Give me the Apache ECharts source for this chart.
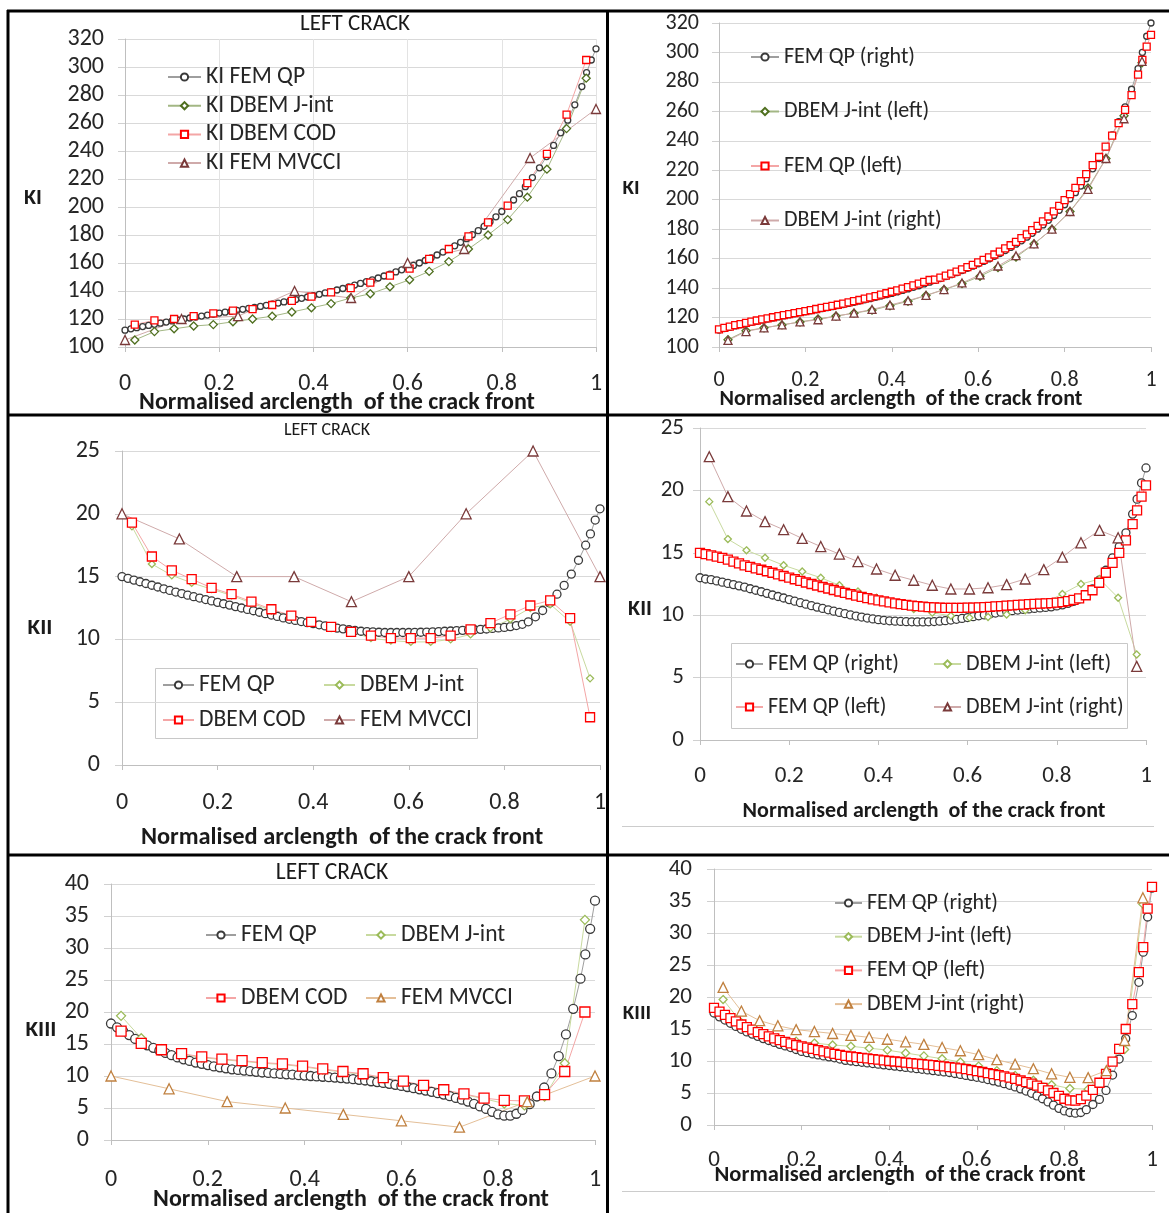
<!DOCTYPE html>
<html lang="en">

<head>
    <meta charset="UTF-8">
    <title>Crack front SIFs</title>
    <script type="text/javascript" src="https://cdn.jsdelivr.net/npm/echarts@6/dist/echarts.min.js"></script>
    <style>
        html, body { margin: 0; padding: 0; background: #fff; }
        #container { width: 1169px; height: 1213px; }
    </style>
</head>

<body>
    <div id="container"></div>
</body>
<script type="text/javascript">
    // crack front sampling (normalised arclength)
    var xQP = [0, 0.0125, 0.025, 0.0375, 0.05, 0.0625, 0.075, 0.0875, 0.1, 0.1125,
        0.125, 0.1375, 0.15, 0.1625, 0.175, 0.1875, 0.2, 0.2125, 0.225, 0.2375,
        0.25, 0.2625, 0.275, 0.2875, 0.3, 0.3125, 0.325, 0.3375, 0.35, 0.3625,
        0.375, 0.3875, 0.4, 0.4125, 0.425, 0.4375, 0.45, 0.4625, 0.475, 0.4875,
        0.5, 0.5125, 0.525, 0.5375, 0.55, 0.5625, 0.575, 0.5875, 0.6, 0.6125,
        0.625, 0.6375, 0.65, 0.6625, 0.675, 0.6875, 0.7, 0.7125, 0.725, 0.7375,
        0.75, 0.7625, 0.775, 0.7875, 0.8, 0.8125, 0.825, 0.8375, 0.85, 0.865,
        0.88, 0.895, 0.91, 0.925, 0.94, 0.955, 0.97, 0.98, 0.99, 1];
    var xBEM = [0.0208, 0.0625, 0.1042, 0.1458, 0.1875, 0.2292, 0.2708, 0.3125, 0.3542, 0.3958,
        0.4375, 0.4792, 0.5208, 0.5625, 0.6042, 0.6458, 0.6875, 0.7292, 0.7708, 0.8125,
        0.8542, 0.8958, 0.9375, 0.9792];
    var xMV = [0, 0.12, 0.24, 0.36, 0.48, 0.6, 0.72, 0.86, 1];

    // KI, left crack
    var kiQP = [112, 113, 113.8, 114.6, 115.4, 116.2, 117, 117.8, 118.6, 119.3,
        120, 120.7, 121.4, 122.1, 122.8, 123.5, 124.2, 124.9, 125.5, 126.2,
        126.9, 127.6, 128.3, 129, 129.8, 130.6, 131.4, 132.2, 133, 133.9,
        134.8, 135.7, 136.6, 137.6, 138.6, 139.6, 140.7, 141.8, 143, 144.2,
        145.4, 146.7, 148, 149.3, 150.7, 152.1, 153.6, 155.1, 156.7, 158.3,
        160, 161.8, 163.7, 165.7, 167.8, 170, 172.3, 174.8, 177.4, 180.2,
        183.1, 186.2, 189.5, 193, 196.8, 200.8, 205, 209.5, 214.5, 221,
        228, 236, 244, 253, 262, 273, 286, 296, 305, 313];
    var kiJint = [105, 111, 113, 115, 116, 118, 120, 122, 125, 128, 131, 135, 138, 143, 148, 154,
        161, 170, 180, 191, 207, 227, 256, 292];
    var kiCOD = [116, 119, 120, 122, 124, 126, 127, 130, 133, 136, 139, 142, 146, 151, 156, 163,
        170, 179, 189, 201, 217, 238, 266, 305];
    var kiMV = [105, 120, 122, 140, 135, 160, 170, 235, 270];

    // KI, both cracks
    var kiQPRight = [111.5, 112.5, 113.4, 114.3, 115.1, 115.9, 116.7, 117.5, 118.3, 119,
        119.7, 120.4, 121.1, 121.8, 122.5, 123.2, 123.9, 124.6, 125.3, 126,
        126.7, 127.4, 128.1, 128.8, 129.6, 130.4, 131.2, 132, 132.8, 133.7,
        134.6, 135.5, 136.4, 137.4, 138.4, 139.4, 140.5, 141.6, 142.8, 144,
        145.2, 146.5, 147.8, 149.1, 150.5, 151.9, 153.4, 154.9, 156.5, 158.1,
        159.8, 161.6, 163.5, 165.5, 167.6, 169.8, 172.1, 174.6, 177.2, 180,
        182.9, 186, 189.3, 192.8, 196.6, 200.6, 204.8, 209.3, 214.3, 221,
        228, 236, 244, 253, 263, 275, 289, 300, 311, 320];
    var kiJintLeft = [105, 111, 113, 115, 117, 119, 121, 123, 125, 128, 131, 135, 139, 143, 148, 154,
        161, 170, 180, 192, 208, 228, 257, 293];
    var kiQPLeft = [112, 113, 113.9, 114.8, 115.6, 116.4, 117.2, 118, 118.8, 119.5,
        120.2, 120.9, 121.6, 122.3, 123, 123.7, 124.4, 125.1, 125.8, 126.5,
        127.2, 127.9, 128.7, 129.5, 130.3, 131.1, 131.9, 132.8, 133.7, 134.6,
        135.5, 136.5, 137.5, 138.5, 139.6, 140.7, 141.8, 143, 144.2, 145.5,
        145.8, 147.1, 148.4, 149.8, 151.2, 152.7, 154.2, 155.8, 157.4, 159.1,
        160.9, 162.8, 164.8, 166.9, 169.1, 171.4, 173.9, 176.5, 179.3, 182.2,
        185.3, 188.6, 192.1, 195.8, 199.7, 203.8, 208.1, 212.6, 217.4, 223.5,
        229, 236, 243.5, 252, 261, 271, 285, 295, 304, 312];
    var kiJintRight = [104.5, 110.5, 113, 115, 117, 118.5, 121, 123, 125.5, 128.5, 131.5, 135, 139, 143.5,
        149, 155, 162, 170, 180, 192, 207, 228, 255, 294];

    // KII, left crack
    var kiiQP = [15, 14.86, 14.72, 14.59, 14.45, 14.31, 14.17, 14.03, 13.9, 13.77,
        13.65, 13.52, 13.4, 13.29, 13.17, 13.06, 12.95, 12.84, 12.73, 12.61,
        12.5, 12.39, 12.28, 12.16, 12.05, 11.94, 11.83, 11.71, 11.6, 11.51,
        11.42, 11.33, 11.25, 11.16, 11.07, 10.99, 10.9, 10.84, 10.77, 10.71,
        10.65, 10.62, 10.6, 10.57, 10.55, 10.55, 10.55, 10.55, 10.55, 10.56,
        10.57, 10.58, 10.6, 10.62, 10.65, 10.67, 10.7, 10.72, 10.75, 10.77,
        10.8, 10.83, 10.87, 10.91, 10.95, 11.02, 11.1, 11.2, 11.4, 11.8,
        12.3, 12.9, 13.6, 14.3, 15.2, 16.3, 17.5, 18.4, 19.5, 20.4];
    var kiiJint = [19.0, 16.0, 15.1, 14.5, 14.0, 13.5, 12.9, 12.3, 11.8, 11.3, 10.9, 10.6, 10.1, 9.9,
        9.8, 9.8, 10.0, 10.4, 10.9, 11.6, 12.5, 12.8, 11.4, 6.9];
    var kiiCOD = [19.3, 16.6, 15.5, 14.8, 14.1, 13.6, 13.0, 12.4, 11.9, 11.4, 11.0, 10.6, 10.3, 10.1,
        10.1, 10.1, 10.3, 10.8, 11.3, 12.0, 12.7, 13.1, 11.7, 3.8];
    var kiiMV = [20, 18, 15, 15, 13, 15, 20, 25, 15];

    // KII, both cracks
    var kiiQPRight = [13.0, 12.9, 12.85, 12.75, 12.65, 12.55, 12.45, 12.35, 12.25, 12.12,
        12.0, 11.88, 11.75, 11.62, 11.5, 11.38, 11.25, 11.12, 11.0, 10.88,
        10.76, 10.65, 10.54, 10.43, 10.32, 10.22, 10.12, 10.02, 9.93, 9.85,
        9.77, 9.7, 9.64, 9.59, 9.55, 9.52, 9.5, 9.48, 9.47, 9.46,
        9.46, 9.47, 9.49, 9.52, 9.56, 9.61, 9.67, 9.74, 9.81, 9.88,
        9.95, 10.02, 10.1, 10.17, 10.24, 10.3, 10.36, 10.41, 10.46, 10.5,
        10.54, 10.58, 10.62, 10.67, 10.74, 10.83, 10.95, 11.1, 11.3, 11.65,
        12.1, 12.8, 13.6, 14.6, 15.5, 16.6, 18.1, 19.3, 20.6, 21.8];
    var kiiJintLeft = [19.1, 16.1, 15.2, 14.6, 14.0, 13.5, 13.0, 12.4, 11.9, 11.4, 10.9, 10.5, 10.2,
        9.95, 9.8, 9.85, 10.05, 10.4, 10.95, 11.7, 12.5, 12.9, 11.4, 6.85];
    var kiiQPLeft = [15.0, 14.9, 14.8, 14.7, 14.6, 14.45, 14.3, 14.15, 14.0, 13.88,
        13.76, 13.64, 13.52, 13.4, 13.27, 13.14, 13.01, 12.88, 12.75, 12.62,
        12.5, 12.38, 12.26, 12.14, 12.02, 11.9, 11.79, 11.68, 11.57, 11.47,
        11.37, 11.27, 11.18, 11.1, 11.02, 10.95, 10.88, 10.82, 10.77, 10.72,
        10.68, 10.65, 10.62, 10.6, 10.59, 10.58, 10.58, 10.59, 10.6, 10.61,
        10.63, 10.65, 10.67, 10.7, 10.73, 10.76, 10.79, 10.82, 10.85, 10.88,
        10.9, 10.92, 10.94, 10.97, 11.0, 11.05, 11.12, 11.22, 11.35, 11.6,
        12.0, 12.6, 13.4, 14.2, 15.0, 16.0, 17.3, 18.4, 19.5, 20.4];
    var kiiJintRight = [22.7, 19.5, 18.35, 17.5, 16.85, 16.15, 15.5, 14.9, 14.3, 13.7, 13.2, 12.8, 12.4,
        12.1, 12.1, 12.2, 12.45, 12.9, 13.65, 14.65, 15.8, 16.8, 16.2, 5.9];

    // KIII, left crack
    var kiiiQP = [18.2, 17.6, 17.0, 16.4, 15.8, 15.3, 14.8, 14.4, 14.0, 13.6,
        13.25, 12.9, 12.6, 12.35, 12.1, 11.9, 11.7, 11.5, 11.35, 11.2,
        11.05, 10.95, 10.85, 10.75, 10.65, 10.55, 10.48, 10.4, 10.33, 10.26,
        10.2, 10.13, 10.07, 10.0, 9.94, 9.88, 9.82, 9.75, 9.68, 9.6,
        9.5, 9.4, 9.3, 9.18, 9.05, 8.92, 8.78, 8.62, 8.45, 8.28,
        8.1, 7.92, 7.73, 7.53, 7.32, 7.1, 6.85, 6.58, 6.3, 6.0,
        5.65, 5.25, 4.85, 4.4, 4.0, 3.8, 3.8, 4.1, 4.7, 5.6,
        6.8, 8.2, 10.4, 13.1, 16.5, 20.5, 25.2, 29.0, 33.0, 37.4];
    var kiiiJint = [19.4, 15.9, 14.2, 13.4, 12.9, 12.55, 12.3, 12.0, 11.8, 11.45, 11.0, 10.6, 10.25,
        9.65, 9.1, 8.45, 7.75, 7.1, 6.45, 5.7, 5.4, 6.8, 12.0, 34.4];
    var kiiiCOD = [17.0, 15.1, 14.1, 13.5, 13.0, 12.65, 12.4, 12.1, 11.9, 11.55, 11.1, 10.7, 10.35,
        9.75, 9.2, 8.55, 7.85, 7.2, 6.55, 6.2, 6.1, 7.1, 10.7, 20.0];
    var kiiiMV = [10, 8, 6, 5, 4, 3, 2, 6, 10];

    // KIII, both cracks
    var kiiiQPRight = [17.5, 16.9, 16.4, 15.9, 15.4, 14.95, 14.55, 14.2, 13.85, 13.5,
        13.2, 12.9, 12.6, 12.35, 12.1, 11.8, 11.5, 11.3, 11.1, 10.95,
        10.8, 10.65, 10.5, 10.3, 10.1, 10.0, 9.9, 9.8, 9.7, 9.6,
        9.5, 9.4, 9.3, 9.2, 9.1, 9.0, 8.9, 8.8, 8.7, 8.6,
        8.5, 8.4, 8.3, 8.2, 8.05, 7.9, 7.75, 7.6, 7.45, 7.3,
        7.1, 6.9, 6.7, 6.45, 6.2, 5.95, 5.65, 5.3, 4.95, 4.55,
        4.1, 3.6, 3.1, 2.6, 2.2, 1.95, 1.85, 1.95, 2.4, 3.2,
        4.0, 5.4, 7.8, 10.3, 13.5, 17.1, 22.3, 27.0, 32.5, 37];
    var kiiiJintLeft = [19.6, 16.0, 14.5, 13.6, 13.1, 12.8, 12.5, 12.3, 12.0, 11.7, 11.25, 10.8, 10.35,
        9.85, 9.2, 8.5, 7.75, 7.0, 6.3, 5.7, 5.6, 8.4, 11.8, 34.5];
    var kiiiQPLeft = [18.3, 17.7, 17.2, 16.7, 16.2, 15.7, 15.3, 14.9, 14.5, 14.2,
        13.85, 13.55, 13.25, 13.0, 12.75, 12.5, 12.3, 12.1, 11.9, 11.7,
        11.5, 11.3, 11.1, 10.95, 10.8, 10.7, 10.6, 10.5, 10.4, 10.3,
        10.2, 10.1, 10.0, 9.92, 9.84, 9.76, 9.68, 9.6, 9.52, 9.44,
        9.35, 9.25, 9.15, 9.05, 8.95, 8.85, 8.72, 8.58, 8.43, 8.28,
        8.12, 7.95, 7.78, 7.6, 7.4, 7.2, 6.95, 6.7, 6.45, 6.15,
        5.8, 5.4, 5.0, 4.55, 4.1, 3.85, 3.8, 4.05, 4.6, 5.5,
        6.6, 8.0, 9.9, 11.9, 15.0, 18.9, 23.9, 27.8, 33.8, 37.2];
    var kiiiJintRight = [21.5, 17.8, 16.3, 15.5, 14.9, 14.6, 14.3, 14.0, 13.7, 13.4, 13.0, 12.6, 12.1,
        11.6, 11.0, 10.2, 9.5, 8.8, 8.0, 7.45, 7.4, 8.5, 13.2, 35.5];

    var FONT = 'Carlito, Lato, sans-serif';
    var TXT = '#262626';

    var dom = document.getElementById('container');
    var myChart = echarts.init(dom, null, { renderer: 'canvas' });

    function pts(xs, ys) {
        return xs.map(function (x, i) { return [x, ys[i]]; });
    }

    function ser(g, name, xs, ys, sym, size, mark, line) {
        return {
            type: 'line', name: name, xAxisIndex: g, yAxisIndex: g,
            data: pts(xs, ys), symbol: sym, symbolSize: size,
            lineStyle: { color: line, width: 1 },
            itemStyle: { color: '#fff', borderColor: mark, borderWidth: 1.3 },
            emphasis: { disabled: true }, silent: true
        };
    }

    // panel boxes [left, top, width, height]
    var grids = [
        [125, 39, 471, 308], [719, 23, 432, 324],
        [122, 451, 478, 314], [700, 428, 446, 312],
        [111, 884, 484, 256], [714, 869, 438, 256]
    ];
    var yRange = [[100, 320, 20], [100, 320, 20], [0, 25, 5], [0, 25, 5], [0, 40, 5], [0, 40, 5]];
    var labSize = [24, 22, 24, 23, 24, 23];
    var xMargin = [25, 22, 26, 25, 28, 24];
    var yMargin = [21, 20, 22, 16, 22, 22];

    var grid = [], xAxis = [], yAxis = [];
    grids.forEach(function (b, i) {
        grid.push({ left: b[0], top: b[1], width: b[2], height: b[3] });
        xAxis.push({
            type: 'value', gridIndex: i, min: 0, max: 1, interval: 0.2,
            axisLine: { show: true, lineStyle: { color: '#bfbfbf' } },
            axisTick: { show: true, length: 5, lineStyle: { color: '#bfbfbf' } },
            axisLabel: { fontSize: labSize[i], color: TXT, fontFamily: FONT, margin: xMargin[i] },
            splitLine: { show: i === 0, lineStyle: { color: '#e3e3e3' } }
        });
        yAxis.push({
            type: 'value', gridIndex: i, min: yRange[i][0], max: yRange[i][1], interval: yRange[i][2],
            axisLine: { show: true, lineStyle: { color: '#bfbfbf' } },
            axisTick: { show: true, length: 7, lineStyle: { color: '#d0d0d0' } },
            axisLabel: { fontSize: labSize[i], color: TXT, fontFamily: FONT, margin: yMargin[i] },
            splitLine: { show: true, lineStyle: { color: '#d9d9d9' } }
        });
    });

    var GREY = '#3a3a3a', GREY_L = '#9e9e9e';
    var OLIVE = '#4f6f1f', OLIVE_L = '#a3b784';
    var LGREEN = '#9bbb59', LGREEN_L = '#c8da9f';
    var RED = '#ff0000', RED_L = '#f4a6a6';
    var BROWN = '#7a3a3a', BROWN_L = '#cfaaaa';
    var TAN = '#c0803f', TAN_L = '#e4bf98';

    var series = [
        ser(0, 'p1:KI FEM QP', xQP, kiQP, 'circle', 6, GREY, GREY_L),
        ser(0, 'p1:KI DBEM J-int', xBEM, kiJint, 'diamond', 8, OLIVE, OLIVE_L),
        ser(0, 'p1:KI DBEM COD', xBEM, kiCOD, 'rect', 7, RED, RED_L),
        ser(0, 'p1:KI FEM MVCCI', xMV, kiMV, 'triangle', 9, BROWN, BROWN_L),

        ser(1, 'p2:FEM QP (right)', xQP, kiQPRight, 'circle', 6, GREY, GREY_L),
        ser(1, 'p2:DBEM J-int (left)', xBEM, kiJintLeft, 'diamond', 8, OLIVE, OLIVE_L),
        ser(1, 'p2:FEM QP (left)', xQP, kiQPLeft, 'rect', 7, RED, RED_L),
        ser(1, 'p2:DBEM J-int (right)', xBEM, kiJintRight, 'triangle', 8, BROWN, BROWN_L),

        ser(2, 'p3:FEM QP', xQP, kiiQP, 'circle', 8, GREY, GREY_L),
        ser(2, 'p3:DBEM J-int', xBEM, kiiJint, 'diamond', 7, LGREEN, LGREEN_L),
        ser(2, 'p3:DBEM COD', xBEM, kiiCOD, 'rect', 9, RED, RED_L),
        ser(2, 'p3:FEM MVCCI', xMV, kiiMV, 'triangle', 10, BROWN, BROWN_L),

        ser(3, 'p4:FEM QP (right)', xQP, kiiQPRight, 'circle', 8, GREY, GREY_L),
        ser(3, 'p4:DBEM J-int (left)', xBEM, kiiJintLeft, 'diamond', 7, LGREEN, LGREEN_L),
        ser(3, 'p4:FEM QP (left)', xQP, kiiQPLeft, 'rect', 9, RED, RED_L),
        ser(3, 'p4:DBEM J-int (right)', xBEM, kiiJintRight, 'triangle', 10, BROWN, BROWN_L),

        ser(4, 'p5:FEM QP', xQP, kiiiQP, 'circle', 9, GREY, GREY_L),
        ser(4, 'p5:DBEM J-int', xBEM, kiiiJint, 'diamond', 9, LGREEN, LGREEN_L),
        ser(4, 'p5:DBEM COD', xBEM, kiiiCOD, 'rect', 10, RED, RED_L),
        ser(4, 'p5:FEM MVCCI', xMV, kiiiMV, 'triangle', 10, TAN, TAN_L),

        ser(5, 'p6:FEM QP (right)', xQP, kiiiQPRight, 'circle', 8, GREY, GREY_L),
        ser(5, 'p6:DBEM J-int (left)', xBEM, kiiiJintLeft, 'diamond', 8, LGREEN, LGREEN_L),
        ser(5, 'p6:FEM QP (left)', xQP, kiiiQPLeft, 'rect', 9, RED, RED_L),
        ser(5, 'p6:DBEM J-int (right)', xBEM, kiiiJintRight, 'triangle', 10, TAN, TAN_L)
    ];

    function leg(names, left, top, gap, w, fs) {
        return {
            data: names, orient: 'vertical', left: left, top: top, itemGap: gap,
            itemWidth: w, itemHeight: 9, selectedMode: false, padding: 0,
            formatter: function (n) { return n.split(':')[1]; },
            textStyle: { fontSize: fs, lineHeight: 24, color: TXT, fontFamily: FONT }
        };
    }

    var legend = [
        leg(['p1:KI FEM QP', 'p1:KI DBEM J-int', 'p1:KI DBEM COD', 'p1:KI FEM MVCCI'], 167, 65, 4.7, 33, 23.5),
        leg(['p2:FEM QP (right)', 'p2:DBEM J-int (left)', 'p2:FEM QP (left)', 'p2:DBEM J-int (right)'], 750, 45, 30.5, 28, 22),
        leg(['p3:FEM QP', 'p3:DBEM COD'], 162, 673, 11, 31, 23.5),
        leg(['p3:DBEM J-int', 'p3:FEM MVCCI'], 323, 673, 11, 31, 23.5),
        leg(['p4:FEM QP (right)', 'p4:FEM QP (left)'], 735, 652, 19, 27, 22),
        leg(['p4:DBEM J-int (left)', 'p4:DBEM J-int (right)'], 933, 652, 19, 27, 22),
        leg(['p5:FEM QP', 'p5:DBEM COD'], 205, 923, 39, 30, 23.5),
        leg(['p5:DBEM J-int', 'p5:FEM MVCCI'], 365, 923, 39, 30, 23.5),
        leg(['p6:FEM QP (right)', 'p6:DBEM J-int (left)', 'p6:FEM QP (left)', 'p6:DBEM J-int (right)'], 834, 891, 9.7, 27, 22)
    ];

    function txt(x, y, s, font) {
        return {
            type: 'text', x: x, y: y, silent: true,
            style: { text: s, font: font, fill: '#1a1a1a', align: 'center', verticalAlign: 'middle',
                textAlign: 'center', textVerticalAlign: 'middle' }
        };
    }
    function ln(x1, y1, x2, y2, c, w) {
        return { type: 'line', silent: true, shape: { x1: x1, y1: y1, x2: x2, y2: y2 },
            style: { stroke: c, lineWidth: w }, z: 10 };
    }
    function box(x, y, w, h) {
        return { type: 'rect', silent: true, shape: { x: x, y: y, width: w, height: h },
            style: { fill: 'none', stroke: '#c8c8c8', lineWidth: 1 } };
    }

    var TITLE = 'Normalised arclength  of the crack front';
    var graphic = [
        // table frame
        ln(8, 10, 8, 1213, '#000', 3),
        ln(7, 11, 1169, 11, '#000', 3),
        ln(607.5, 10, 607.5, 1213, '#000', 3),
        ln(7, 415, 1169, 415, '#000', 3),
        ln(7, 855, 1169, 855, '#000', 3),
        // excel chart frame remnants
        ln(622, 826.5, 1154, 826.5, '#cccccc', 1),
        ln(622, 1191.5, 1155, 1191.5, '#cccccc', 1),
        // legend boxes
        box(155.5, 668.5, 322, 70),
        box(731.5, 643.5, 396, 85),
        // panel titles
        txt(355, 24, 'LEFT CRACK', '23px ' + FONT),
        txt(327, 430, 'LEFT CRACK', '18px ' + FONT),
        txt(332, 873, 'LEFT CRACK', '23.5px ' + FONT),
        // y names
        txt(33, 198, 'KI', 'bold 22px ' + FONT),
        txt(631, 189, 'KI', 'bold 21px ' + FONT),
        txt(40, 628, 'KII', 'bold 23px ' + FONT),
        txt(640, 609, 'KII', 'bold 22px ' + FONT),
        txt(41, 1030, 'KIII', 'bold 23px ' + FONT),
        txt(637, 1014, 'KIII', 'bold 21px ' + FONT)
    ];
    [[337, 403, 24], [901, 399, 22], [342, 838, 24.4], [924, 811, 22], [351, 1200, 24], [900, 1175, 22.5]]
        .forEach(function (t) { graphic.push(txt(t[0], t[1], TITLE, 'bold ' + t[2] + 'px ' + FONT)); });

    myChart.setOption({
        animation: false,
        backgroundColor: '#fff',
        textStyle: { fontFamily: FONT },
        grid: grid,
        xAxis: xAxis,
        yAxis: yAxis,
        legend: legend,
        series: series,
        graphic: graphic
    });

    window.addEventListener('resize', myChart.resize);
</script>

</html>
